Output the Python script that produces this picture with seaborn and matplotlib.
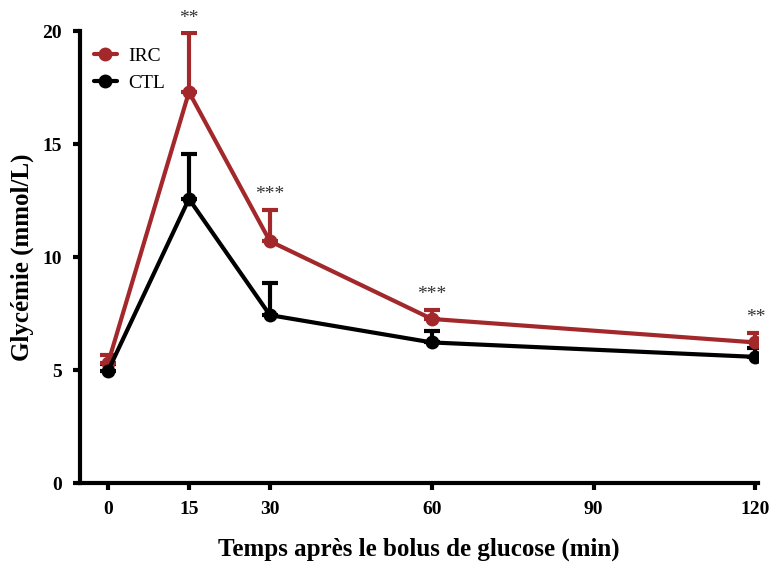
import matplotlib
matplotlib.use("Agg")
import matplotlib.pyplot as plt
import seaborn as sns
import pandas as pd
import numpy as np

time = [0, 15, 30, 60, 120]
irc_mean = [5.3, 17.3, 10.7, 7.26, 6.22]
irc_sem = [0.35, 2.6, 1.4, 0.4, 0.42]
ctl_mean = [4.96, 12.57, 7.43, 6.22, 5.58]
ctl_sem = [0.3, 2.0, 1.42, 0.52, 0.4]
stars = ["", "**", "***", "***", "**"]
xticks = [0, 15, 30, 60, 90, 120]
yticks = [0, 5, 10, 15, 20]

red = "#a3282b"
black = "#000000"

sns.set_theme(style="ticks", rc={"axes.edgecolor": "black", "xtick.color": "black",
                                 "ytick.color": "black", "text.color": "black",
                                 "axes.labelcolor": "black"})
plt.rcParams["font.family"] = ["Liberation Serif", "DejaVu Serif"]

df = pd.DataFrame({
    "time": time * 2,
    "value": irc_mean + ctl_mean,
    "group": ["IRC"] * len(time) + ["CTL"] * len(time),
})

fig = plt.figure(figsize=(7.72, 5.64), dpi=100)
ax = fig.add_axes([0.1036, 0.1436, 0.8785, 0.8014])

for grp, mean, sem, col in [("CTL", ctl_mean, ctl_sem, black), ("IRC", irc_mean, irc_sem, red)]:
    ax.errorbar(time, mean, yerr=[np.zeros(len(sem)), sem], fmt="none",
                ecolor=col, elinewidth=3, capsize=6, capthick=3, zorder=2)

sns.lineplot(data=df, x="time", y="value", hue="group", hue_order=["IRC", "CTL"],
             palette={"IRC": red, "CTL": black}, marker="o", markersize=10,
             markeredgewidth=0, linewidth=3, ax=ax, zorder=3)

for t, m, s, st in zip(time, irc_mean, irc_sem, stars):
    if st:
        ax.text(t, m + s + 0.3, st, ha="center", va="bottom", fontsize=14,
                color="#333333")

ax.set_xlim(-5.2, 120.5)
ax.set_ylim(0, 20)
ax.set_xticks(xticks)
ax.set_yticks(yticks)
ax.set_xticklabels([str(v) for v in xticks], fontsize=14, fontweight="bold")
ax.set_yticklabels([str(v) for v in yticks], fontsize=14, fontweight="bold")
ax.set_xlabel("Temps après le bolus de glucose (min)", fontsize=18,
              fontweight="bold", labelpad=14)
ax.set_ylabel("Glycémie (mmol/L)", fontsize=18, fontweight="bold", labelpad=6)
for side in ["top", "right"]:
    ax.spines[side].set_visible(False)
for side in ["left", "bottom"]:
    ax.spines[side].set_linewidth(3)
    ax.spines[side].set_color("black")
ax.tick_params(axis="both", width=3, length=5, pad=8, colors="black")

leg = ax.legend(loc="upper left", frameon=False, fontsize=14,
                bbox_to_anchor=(0.0, 0.995), handlelength=1.2, handletextpad=0.6,
                borderaxespad=0.3)

fig.savefig("out.png", dpi=100)
